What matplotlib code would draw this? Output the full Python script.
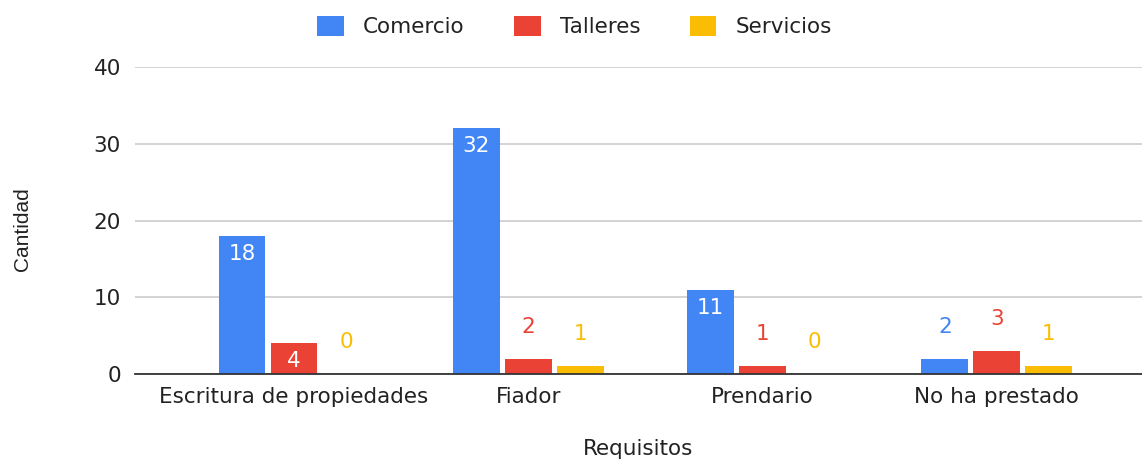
import matplotlib
matplotlib.use("Agg")
import matplotlib.pyplot as plt
from matplotlib.patches import Patch
import numpy as np

plt.rcParams['font.family'] = ['DejaVu Sans']

categorias = ["Escritura de propiedades", "Fiador", "Prendario", "No ha prestado"]
series = ["Comercio", "Talleres", "Servicios"]
comercio = [18, 32, 11, 2]
talleres = [4, 2, 1, 3]
servicios = [0, 1, 0, 1]
colores = ["#4285F4", "#EA4335", "#FBBC04"]
yticks = [0, 10, 20, 30, 40]

fs = 15.5
fig = plt.figure(figsize=(11.42, 4.59), dpi=100)
ax = fig.add_axes([0.118, 0.185, 0.882, 0.669])

x = np.arange(len(categorias))
ancho = 0.2
paso = 0.222
for i, (nombre, vals, col) in enumerate(zip(series, [comercio, talleres, servicios], colores)):
    pos = x + (i - 1) * paso
    ax.bar(pos, vals, width=ancho, color=col, zorder=3)
    for px, v in zip(pos, vals):
        if v >= 4:
            ax.annotate(str(v), (px, v), xytext=(0, -13), textcoords="offset points",
                        ha="center", va="center", color="white", fontsize=fs, zorder=4)
        else:
            ax.annotate(str(v), (px, v), xytext=(0, 23), textcoords="offset points",
                        ha="center", va="center", color=col, fontsize=fs, zorder=4)

ax.set_xlim(-0.68, 3.62)
ax.set_ylim(0, 40)
ax.set_yticks(yticks)
ax.set_xticks(x)
ax.set_xticklabels(categorias, fontsize=fs, color="#222222")
ax.tick_params(axis="y", length=0, pad=10, labelsize=fs, labelcolor="#222222")
ax.tick_params(axis="x", length=0, pad=9)
ax.grid(axis="y", color="#cccccc", linewidth=1.2, zorder=0)
for s in ["top", "right", "left"]:
    ax.spines[s].set_visible(False)
ax.spines["bottom"].set_color("#333333")
ax.spines["bottom"].set_linewidth(1.3)
ax.spines["bottom"].set_zorder(5)

ax.set_xlabel("Requisitos", fontsize=fs, color="#222222", labelpad=23)
fig.text(0.02, 0.50, "Cantidad", rotation=90, ha="center", va="center", fontsize=15,
         color="#222222", family=["Liberation Sans"])

handles = [Patch(facecolor=c, edgecolor="none") for c in colores]
fig.legend(handles, series, loc="upper center", bbox_to_anchor=(0.503, 1.008), ncol=3,
           frameon=False, fontsize=fs, handlelength=1.25, handleheight=1.1,
           columnspacing=2.28, handletextpad=0.9, labelcolor="#222222")

fig.savefig("out.png", dpi=100)
